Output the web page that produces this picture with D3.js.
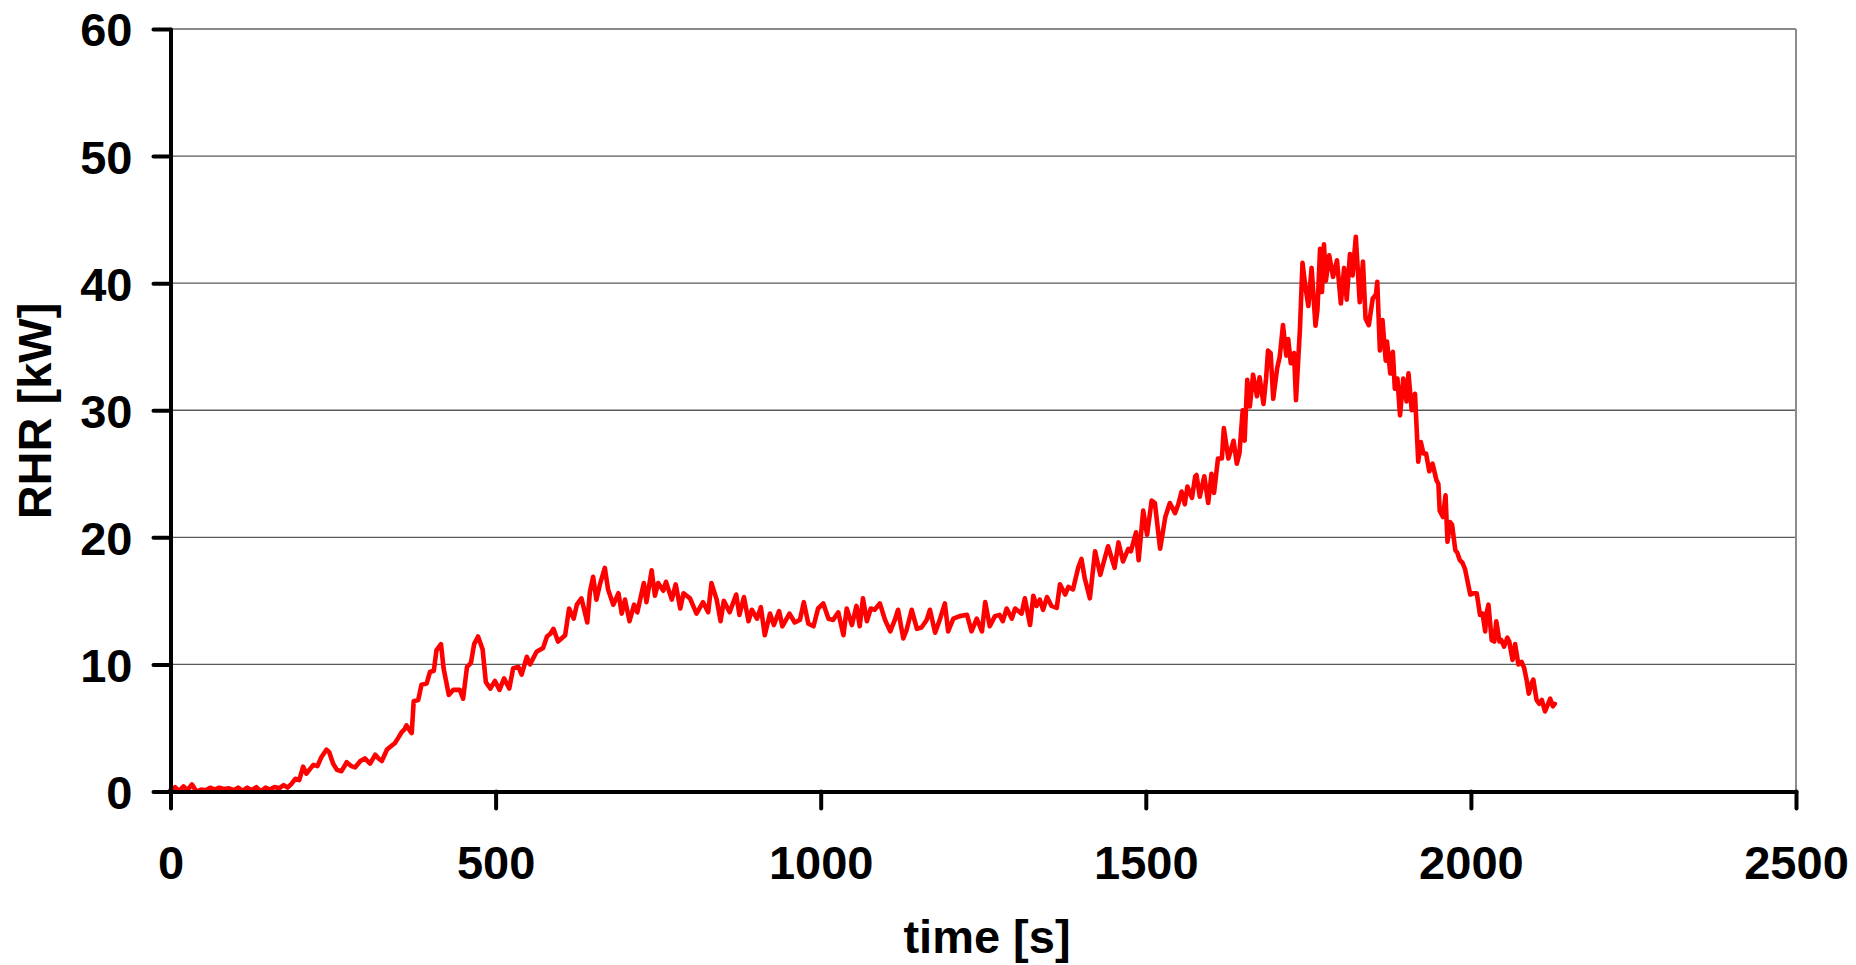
<!DOCTYPE html>
<html>
<head>
<meta charset="utf-8">
<script src="https://cdn.jsdelivr.net/npm/d3@7"></script>
<style>
  html, body { margin: 0; padding: 0; background: #fff; }
  svg { display: block; }
  text { font-family: "Liberation Sans", Arial, Helvetica, sans-serif; font-weight: bold; fill: #000; }
</style>
</head>
<body>
<svg id="chart" width="1856" height="965"></svg>
<script>
const timeS = [0,7,13,20,26,33,40,47,54,61,68,75,82,90,97,104,111,118,125,132,139,146,153,160,167,174,180,186,
192,198,204,209,215,220,226,232,240,244,250,256,263,271,278,284,292,299,307,315,320,325,333,340,345,350,356,360,363,368,371,374,381,386,394,399,405,409,416,420,428,435,445,450,456,462,467,473,480,485,492,499,506,513,521,527,535,540,548,553,563,573,579,584,589,596,607,613,620,625,632,641,645,650,655,661,668,673,681,689,694,699,706,713,718,728,732,740,745,750,758,762,771,777,784,789,799,809,819,827,832,840,846,851,860,870,875,882,889,894,902,908,914,922,928,936,941,952,960,968,974,981,989,996,1004,1012,1019,1027,1035,1040,1048,1055,1060,1065,1071,1077,1083,1091,1099,1107,1114,1119,1127,1132,1140,1148,1155,1163,1168,1176,1183,1191,1196,1204,1214,1225,1232,1240,1248,1253,1260,1268,1275,1280,1286,1294,1299,1309,1314,1322,1327,1332,1337,1342,1348,1355,1363,1368,1376,1381,1388,1396,1401,1406,1414,1422,1430,1435,1442,1452,1458,1465,1473,1477,1485,1489,1496,1502,1509,1514,1522,1530,1537,1545,1550,1555,1560,1564,1571,1576,1578,1583,1590,1596,1601,1605,1611,1617,1620,1627,1635,1640,1644,1649,1652,1656,1660,1665,1671,1675,1681,1685,1688,1692,1696,1702,1706,1711,1716,1719,1723,1728,1731,1737,1741,1745,1750,1755,1761,1764,1768,1771,1774,1777,1782,1788,1794,1800,1805,1809,1814,1818,1823,1829,1834,1838,1843,1849,1854,1856,1860,1864,1869,1871,1876,1880,1883,1887,1891,1896,1901,1904,1909,1914,1919,1923,1927,1931,1936,1941,1947,1950,1952,1957,1961,1964,1968,1971,1976,1979,1983,1987,1991,1999,2004,2009,2014,2018,2022,2024,2027,2032,2036,2039,2044,2047,2051,2056,2059,2064,2068,2073,2078,2082,2086,2089,2094,2096,2101,2105,2109,2114,2118,2122,2126,2129];

const rhrKW = [0.1,0.35,0.05,0.4,0.1,0.55,0.0,0.15,0.1,0.3,0.15,0.3,0.2,0.25,0.1,0.3,0.05,0.3,0.1,0.35,0.0,0.3,0.15,0.35,0.25,0.5,0.3,0.6,
1.0,0.9,1.95,1.4,1.8,2.1,2.0,2.7,3.3,3.1,2.2,1.7,1.6,2.3,2.0,1.9,2.4,2.6,2.2,2.9,2.6,2.4,3.3,3.6,3.8,4.2,4.7,4.9,5.2,4.8,4.6,7.1,7.2,8.4,8.5,9.4,9.5,11.1,11.6,9.7,7.6,8.0,8.0,7.3,9.8,10.1,11.6,12.2,11.2,8.6,8.1,8.7,8.0,8.9,8.1,9.7,9.8,9.2,10.6,10.0,11.0,11.3,12.2,12.4,12.8,11.8,12.3,14.4,13.6,14.7,15.2,13.3,15.7,16.9,15.1,16.4,17.6,15.9,14.7,15.6,14.0,15.1,13.4,14.7,14.1,16.4,14.9,17.4,15.4,16.4,15.8,16.5,15.1,16.3,14.4,15.6,15.2,14.0,14.9,14.1,16.4,15.1,13.4,15.0,14.1,15.5,13.9,15.3,13.4,14.3,13.6,14.5,12.3,14.0,13.1,14.2,13.0,14.0,13.3,13.5,14.9,13.2,13.0,14.4,14.8,13.6,13.5,14.1,12.3,14.4,13.1,14.6,13.0,15.2,13.4,14.4,14.3,14.8,13.5,12.6,13.5,14.3,12.05,12.7,14.3,12.8,12.9,13.5,14.3,12.5,13.5,14.8,12.6,13.6,13.8,13.9,12.6,13.6,12.6,14.9,13.0,13.8,13.9,13.4,14.4,13.6,14.4,14.0,15.2,13.1,15.4,14.6,15.1,14.3,15.3,14.6,14.45,16.3,15.5,16.1,15.9,17.6,18.3,16.8,15.2,18.9,17.05,18.0,19.3,17.6,19.6,18.1,19.1,18.9,20.4,18.2,22.1,20.2,22.9,22.7,19.1,21.6,22.7,21.9,22.6,23.6,22.6,24.0,23.1,24.8,24.9,23.2,24.8,22.7,25.0,23.5,26.2,26.2,28.6,26.2,27.6,25.8,26.6,30.0,27.6,32.4,30.3,32.8,31.1,32.6,30.5,32.5,34.7,34.5,30.9,33.3,34.2,36.7,34.3,35.6,33.7,34.5,30.8,36.3,41.6,39.9,38.2,41.2,36.65,37.9,42.7,39.3,43.05,40.2,42.2,40.5,41.8,38.4,41.2,38.7,42.3,40.6,43.65,38.5,41.7,37.2,36.7,38.8,39.1,40.1,34.7,37.1,33.9,35.4,32.9,34.6,31.7,32.5,29.6,32.5,30.7,32.9,30.0,31.3,25.95,27.5,26.6,26.6,25.2,25.8,24.5,24.2,22.1,21.6,23.3,19.65,21.2,21.0,19.0,18.8,18.2,18.0,17.5,15.5,15.6,15.6,13.9,14.0,12.6,14.0,14.7,11.9,11.8,13.4,11.8,11.9,11.4,12.1,11.8,10.35,11.6,10.0,10.2,9.7,8.7,7.7,8.6,8.8,7.2,6.9,7.2,6.3,6.8,7.3,6.7,6.9,6.5];

const xTicks = [0, 500, 1000, 1500, 2000, 2500];
const yTicks = [0, 10, 20, 30, 40, 50, 60];
const xTitle = "time [s]";
const yTitle = "RHR [kW]";

const svg = d3.select("#chart");
const x = d3.scaleLinear().domain([0, 2500]).range([170.5, 1796]);
const y = d3.scaleLinear().domain([0, 60]).range([791.5, 29]);

// gridlines
svg.append("g").selectAll("line").data(yTicks.filter(d => d > 0)).join("line")
  .attr("x1", x(0)).attr("x2", x(2500))
  .attr("y1", d => y(d)).attr("y2", d => y(d))
  .attr("stroke", d => d === 60 ? "#8a8a8a" : "#5a5a5a")
  .attr("stroke-width", d => d === 60 ? 2 : 1.3);

// right border
svg.append("line")
  .attr("x1", x(2500)).attr("x2", x(2500))
  .attr("y1", y(60)).attr("y2", y(0))
  .attr("stroke", "#8c8c8c").attr("stroke-width", 2);

// data line
const line = d3.line().x((d, i) => x(timeS[i])).y(d => y(d));
svg.append("path")
  .attr("d", line(rhrKW))
  .attr("fill", "none")
  .attr("stroke", "#ff0000")
  .attr("stroke-width", 4.6)
  .attr("stroke-linejoin", "round")
  .attr("stroke-linecap", "round");

// axes
const xAxis = d3.axisBottom(x).tickValues(xTicks).tickSize(17).tickSizeOuter(0).tickFormat(d3.format("d"));
const yAxis = d3.axisLeft(y).tickValues(yTicks).tickSize(17).tickSizeOuter(0).tickPadding(21).tickFormat(d3.format("d"));

const gx = svg.append("g").attr("transform", `translate(0,${y(0)})`).call(xAxis);
const gy = svg.append("g").attr("transform", `translate(${x(0)},0)`).call(yAxis);

[gx, gy].forEach(g => {
  g.select(".domain").attr("stroke", "#000").attr("stroke-width", 4).attr("stroke-linecap", "round");
  g.selectAll(".tick line").attr("stroke", "#000").attr("stroke-width", 4).attr("stroke-linecap", "round");
  g.selectAll(".tick text").attr("font-size", 47).attr("font-family", '"Liberation Sans", Arial, sans-serif').attr("font-weight", "bold").attr("fill", "#000");
});
gx.selectAll(".tick text").attr("dy", null).attr("y", 87);
gy.selectAll(".tick text").attr("dy", "0.36em");

// axis titles
svg.append("text")
  .attr("x", 987).attr("y", 953)
  .attr("text-anchor", "middle")
  .attr("font-size", 47)
  .text(xTitle);

svg.append("text")
  .attr("transform", "translate(51,411) rotate(-90)")
  .attr("text-anchor", "middle")
  .attr("font-size", 47)
  .text(yTitle);
</script>
</body>
</html>
